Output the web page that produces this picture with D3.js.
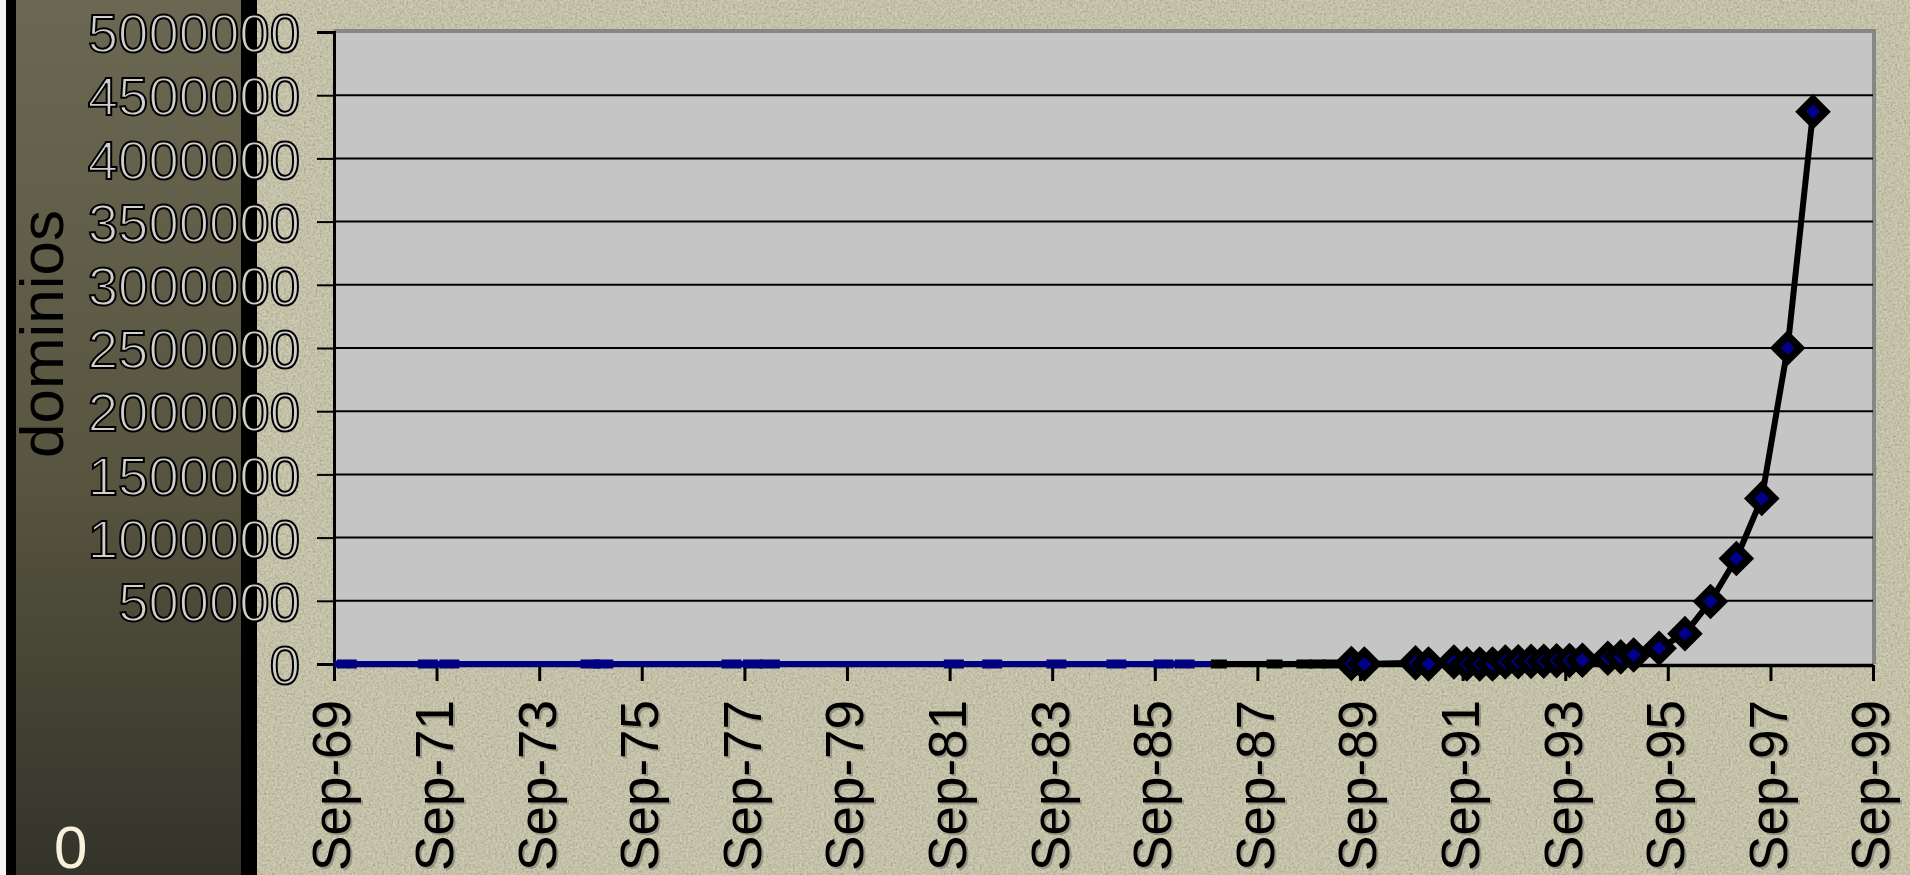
<!DOCTYPE html>
<html>
<head>
<meta charset="utf-8">
<script src="https://cdn.jsdelivr.net/npm/d3@7"></script>
<style>
html,body{margin:0;padding:0;overflow:hidden;background:#c4c0a2;}
svg{display:block;}
</style>
</head>
<body>
<svg id="chart" width="1910" height="875"></svg>
<script>
// ---------- data ----------
const xTickLabels = ["Sep-69","Sep-71","Sep-73","Sep-75","Sep-77","Sep-79","Sep-81","Sep-83",
                     "Sep-85","Sep-87","Sep-89","Sep-91","Sep-93","Sep-95","Sep-97","Sep-99"];
const yTickValues = [0,500000,1000000,1500000,2000000,2500000,3000000,3500000,4000000,4500000,5000000];

// early survey points with no domain count (drawn flat on the axis)
const earlyDates = ["1969-12","1971-07","1971-12","1974-09","1974-12","1977-06","1977-11","1978-03",
                    "1981-10","1982-07","1983-10","1984-12","1985-11","1986-04"];
// transition points (black line, no domain count)
const midDates  = ["1986-11","1986-12","1988-01","1988-08","1988-11","1989-02"];
const midValues = [0,0,0,0,0,0];
// domain survey points
const mainDates  = ["1989-07","1989-10","1990-10","1991-01","1991-07","1991-10","1992-01","1992-04",
                    "1992-07","1992-10","1993-01","1993-04","1993-07","1993-10","1994-01","1994-07",
                    "1994-10","1995-01","1995-07","1996-01","1996-07","1997-01","1997-07","1998-01","1998-07"];
const mainValues = [3900,0,9300,0,16000,0,0,0,
                    16300,18100,21000,22000,26000,28000,30000,46000,
                    56000,71000,125000,240000,495000,835000,1310000,2500000,4370000];
const yTitle = "dominios";
const cornerText = "0";

// ---------- setup ----------
const parseM = d3.timeParse("%Y-%m");
const parseTick = d3.timeParse("%b-%y");
const tickDates = xTickLabels.map(parseTick);

const svg = d3.select("#chart");
const W = 1910, H = 875;
const plot = {left:334, right:1873, top:32, bottom:664};

const x = d3.scaleTime().domain([tickDates[0], tickDates[tickDates.length-1]]).range([plot.left, plot.right]);
const y = d3.scaleLinear().domain([0, 5000000]).range([plot.bottom, plot.top]);

const defs = svg.append("defs");
const grad = defs.append("linearGradient").attr("id","olive").attr("x1",0).attr("y1",0).attr("x2",0).attr("y2",1);
grad.append("stop").attr("offset","0%").attr("stop-color","#6a6752");
grad.append("stop").attr("offset","55%").attr("stop-color","#57543f");
grad.append("stop").attr("offset","100%").attr("stop-color","#34332a");

const f = defs.append("filter").attr("id","grain").attr("x",0).attr("y",0).attr("width","100%").attr("height","100%");
f.append("feTurbulence").attr("type","fractalNoise").attr("baseFrequency","0.45").attr("numOctaves",3).attr("seed",4);
f.append("feColorMatrix").attr("type","matrix")
  .attr("values","1.3 0 0 0 -0.1  1.3 0 0 0 -0.1  1.3 0 0 0 -0.15  0 0 0 0 0.28");

// ---------- background ----------
svg.append("rect").attr("x",0).attr("y",0).attr("width",W).attr("height",H).attr("fill","#c4c0a2");
svg.append("rect").attr("x",257).attr("y",0).attr("width",W-257).attr("height",H).attr("filter","url(#grain)");
svg.append("rect").attr("x",0).attr("y",0).attr("width",6).attr("height",H).attr("fill","#f4f4f0");
svg.append("rect").attr("x",6).attr("y",0).attr("width",10).attr("height",H).attr("fill","#000");
svg.append("rect").attr("x",16).attr("y",0).attr("width",225).attr("height",H).attr("fill","url(#olive)");
svg.append("rect").attr("x",241).attr("y",0).attr("width",16).attr("height",H).attr("fill","#000");

svg.append("text").attr("x",54).attr("y",868)
  .attr("font-family","'Liberation Sans', Arial, sans-serif").attr("font-size",60)
  .attr("fill","#f6f1d8").text(cornerText);

// ---------- plot area ----------
svg.append("rect").attr("x",plot.left).attr("y",plot.top-2).attr("width",plot.right-plot.left)
  .attr("height",plot.bottom-plot.top+2).attr("fill","#c5c5c5");
svg.append("path")
  .attr("d",`M${plot.left},${plot.top-1}H${plot.right+1}V${plot.bottom}`)
  .attr("fill","none").attr("stroke","#868686").attr("stroke-width",4);

// gridlines
svg.append("g").selectAll("line").data(yTickValues.filter(v=>v>0 && v<5000000)).join("line")
  .attr("x1",plot.left).attr("x2",plot.right).attr("y1",d=>y(d)).attr("y2",d=>y(d))
  .attr("stroke","#000").attr("stroke-width",2);

// ---------- axes ----------
const fontFam = "'Liberation Sans', Arial, sans-serif";
const yAxis = svg.append("g").attr("transform",`translate(${plot.left},0)`)
  .call(d3.axisLeft(y).tickValues(yTickValues).tickFormat(d3.format("d")).tickSize(17).tickPadding(17));
yAxis.select(".domain").attr("stroke","#000").attr("stroke-width",3);
yAxis.selectAll(".tick line").attr("stroke","#000").attr("stroke-width",2);
yAxis.selectAll(".tick text")
  .attr("font-family",fontFam).attr("font-size",54.5)
  .attr("fill","#cfcfcb").attr("stroke","#000").attr("stroke-width",2)
  .attr("dy","0.36em");

const xAxis = svg.append("g").attr("transform",`translate(0,${plot.bottom+1})`)
  .call(d3.axisBottom(x).tickValues(tickDates).tickFormat((d,i)=>xTickLabels[i]).tickSize(16).tickSizeOuter(0));
xAxis.select(".domain").attr("stroke","#000").attr("stroke-width",3.5);
xAxis.selectAll(".tick line").attr("stroke","#000").attr("stroke-width",3);
xAxis.selectAll(".tick text").remove();
xAxis.selectAll(".tick").each(function(d,i){
  const g = d3.select(this);
  g.append("text").attr("transform","translate(2,2) rotate(-90)")
    .attr("x",-35).attr("dy","0.3em").attr("text-anchor","end")
    .attr("font-family",fontFam).attr("font-size",53).attr("fill","#8c8a7a").attr("opacity",0.8)
    .text(xTickLabels[i]);
  g.append("text").attr("transform","rotate(-90)")
    .attr("x",-35).attr("dy","0.3em").attr("text-anchor","end")
    .attr("font-family",fontFam).attr("font-size",53).attr("fill","#000")
    .text(xTickLabels[i]);
});

// y title
svg.append("text").attr("transform","rotate(-90)")
  .attr("x",-334).attr("y",63).attr("text-anchor","middle")
  .attr("font-family",fontFam).attr("font-size",62).attr("fill","#000").text(yTitle);

// ---------- series ----------
const earlyStart = x.domain()[0];
svg.append("line")
  .attr("x1",x(earlyStart)).attr("x2",x(parseM(midDates[0])))
  .attr("y1",y(0)).attr("y2",y(0))
  .attr("stroke","#000080").attr("stroke-width",6);
svg.append("g").selectAll("rect").data(earlyDates).join("rect")
  .attr("x",d=>x(parseM(d))-10).attr("y",y(0)-4.5).attr("width",20).attr("height",9)
  .attr("fill","#000080");

const allPts = midDates.map((d,i)=>({date:parseM(d), v:midValues[i]}))
  .concat(mainDates.map((d,i)=>({date:parseM(d), v:mainValues[i]})));
svg.append("path").datum(allPts)
  .attr("d", d3.line().x(d=>x(d.date)).y(d=>y(d.v)))
  .attr("fill","none").attr("stroke","#000").attr("stroke-width",6).attr("stroke-linejoin","round");

svg.append("g").selectAll("rect").data(midDates.slice(1)).join("rect")
  .attr("x",d=>x(parseM(d))-8).attr("y",y(0)-4.5).attr("width",16).attr("height",9)
  .attr("fill","#000");

const diamond = {draw(ctx,size){const r=Math.sqrt(size/2);ctx.moveTo(0,-r);ctx.lineTo(r,0);ctx.lineTo(0,r);ctx.lineTo(-r,0);ctx.closePath();}};
svg.append("g").selectAll("path").data(mainDates.map((d,i)=>({date:parseM(d), v:mainValues[i]}))).join("path")
  .attr("transform",d=>`translate(${x(d.date)},${y(d.v)})`)
  .attr("d", d3.symbol().type(diamond).size(2*12.5*12.5))
  .attr("fill","#00008b").attr("stroke","#000").attr("stroke-width",7.5).attr("stroke-linejoin","miter");
</script>
</body>
</html>
